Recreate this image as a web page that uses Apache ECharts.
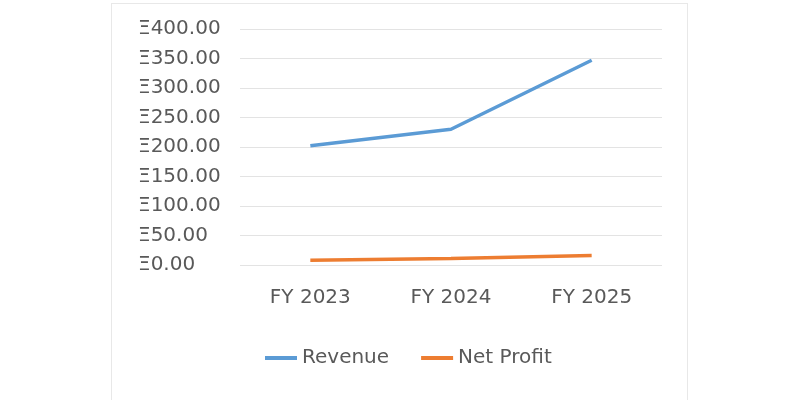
<!DOCTYPE html>
<html>
<head>
<meta charset="utf-8">
<script src="https://cdn.jsdelivr.net/npm/echarts@6/dist/echarts.min.js"></script>
<style>
    html, body { margin: 0; padding: 0; background: #fff; }
    .frame {
        position: absolute;
        left: 111px;
        top: 3px;
        width: 577px;
        height: 400px;
        border: 1px solid #e8e8e8;
        box-sizing: border-box;
    }
    #chart { position: absolute; left: 0; top: 0; width: 800px; height: 400px; }
</style>
</head>
<body>
<div class="frame"></div>
<div id="chart"></div>
<script>
const categories = ['FY 2023', 'FY 2024', 'FY 2025']
const revenue = [202, 230, 347]
const netProfit = [8, 11, 16]
const currency = 'Ξ'

const textColor = '#595959'
const fontFamily = 'DejaVu Sans'

const chart = echarts.init(document.getElementById('chart'))
chart.setOption({
    animation: false,
    color: ['#5B9BD5', '#ED7D31'],
    grid: {
        left: 240,
        right: 138,
        top: 29,
        bottom: 135,
    },
    legend: {
        left: 265,
        top: 348,
        padding: 0,
        icon: 'rect',
        itemWidth: 32,
        itemHeight: 4,
        itemGap: 32,
        textStyle: {
            color: textColor,
            fontSize: 20,
            fontFamily,
        },
        data: ['Revenue', 'Net Profit'],
    },
    xAxis: {
        type: 'category',
        boundaryGap: true,
        data: categories,
        axisLine: { show: false },
        axisTick: { show: false },
        axisLabel: {
            color: textColor,
            fontSize: 20,
            fontFamily,
            margin: 23,
        },
    },
    yAxis: {
        type: 'value',
        min: 0,
        max: 400,
        interval: 50,
        axisLabel: {
            color: textColor,
            fontSize: 20,
            fontFamily,
            margin: 102,
            align: 'left',
            formatter: value => currency + value.toFixed(2),
        },
        splitLine: { lineStyle: { color: '#e3e3e3', width: 1 } },
    },
    series: [
        {
            name: 'Revenue',
            type: 'line',
            showSymbol: false,
            data: revenue,
            lineStyle: { width: 3.5, color: '#5B9BD5' },
        },
        {
            name: 'Net Profit',
            type: 'line',
            showSymbol: false,
            data: netProfit,
            lineStyle: { width: 3.5, color: '#ED7D31' },
        },
    ],
})
</script>
</body>
</html>
